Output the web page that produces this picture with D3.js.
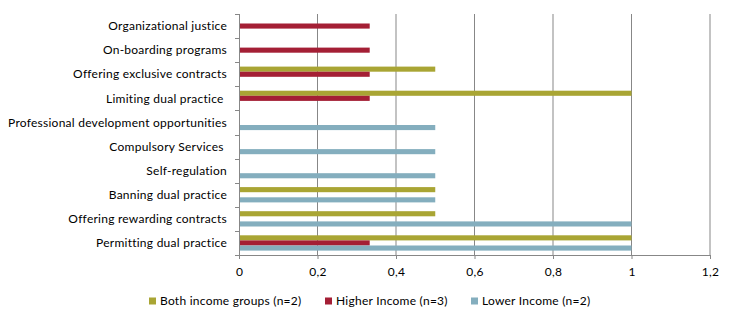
<!DOCTYPE html>
<html>
<head>
  <style type="text/css">
    body { margin: 0; background: #fff; }
    svg { font-family: Lato, 'Open Sans', sans-serif; }
    .lbl { white-space: pre; }
    text { letter-spacing: 0.25px; }
  </style>
</head>
<body>
<svg id="chart" width="733" height="321"></svg>
<script src="https://cdnjs.cloudflare.com/ajax/libs/d3/7.8.5/d3.min.js"></script>
<script type="text/javascript">

  var categories = [
    'Organizational justice',
    'On-boarding programs',
    'Offering exclusive contracts',
    'Limiting dual practice ',
    'Professional development opportunities',
    'Compulsory Services ',
    'Self-regulation',
    'Banning dual practice',
    'Offering rewarding contracts',
    'Permitting dual practice'
  ];
  var seriesNames = ['Both income groups (n=2)', 'Higher Income (n=3)', 'Lower Income (n=2)'];
  var bothVals   = [0, 0, 0.5, 1, 0, 0, 0, 0.5, 0.5, 1];
  var higherVals = [0.333, 0.333, 0.333, 0.333, 0, 0, 0, 0, 0, 0.333];
  var lowerVals  = [0, 0, 0, 0, 0.5, 0.5, 0.5, 0.5, 1, 1];
  var xTicks = [0, 0.2, 0.4, 0.6, 0.8, 1, 1.2];
  var colors = ['#a9a534', '#a41f35', '#84aebe'];

  var margin = { top: 14, left: 239, right: 23, bottom: 66 },
      width = 733, height = 321,
      svg = d3.select('#chart');

  var x = d3.scaleLinear().domain([0, 1.2]).range([margin.left, width - margin.right]);
  var y = d3.scaleBand().domain(categories).range([margin.top, height - margin.bottom]);
  var barH = 5.1;
  var sub = d3.scaleBand().domain(seriesNames)
    .range([y.bandwidth() / 2 - 1.5 * barH, y.bandwidth() / 2 + 1.5 * barH]);

  // gridlines
  svg.append('g').selectAll('line')
    .data(xTicks.slice(1))
    .join('line')
      .attr('x1', function(d) { return x(d) }).attr('x2', function(d) { return x(d) })
      .attr('y1', margin.top).attr('y2', height - margin.bottom)
      .attr('stroke', '#878787').attr('stroke-width', 1);

  // bars
  var rows = categories.map(function(c, i) {
    return { cat: c, vals: [bothVals[i], higherVals[i], lowerVals[i]] };
  });
  var g = svg.append('g').selectAll('g')
    .data(rows)
    .join('g')
      .attr('transform', function(d) { return 'translate(0,' + y(d.cat) + ')' });
  g.selectAll('rect')
    .data(function(d) { return d.vals.map(function(v, j) { return { v: v, s: seriesNames[j], j: j } }) })
    .join('rect')
      .attr('x', x(0))
      .attr('y', function(d) { return sub(d.s) })
      .attr('width', function(d) { return x(d.v) - x(0) })
      .attr('height', barH)
      .attr('fill', function(d) { return colors[d.j] });

  // x axis
  var xAxis = d3.axisBottom(x).tickValues(xTicks).tickSize(4)
    .tickFormat(function(d) { return String(d).replace('.', ',') });
  var xa = svg.append('g')
    .attr('transform', 'translate(0,' + (height - margin.bottom) + ')')
    .call(xAxis);
  xa.select('.domain').attr('stroke', '#878787').attr('d', 'M' + x(0) + ',0.5H' + x(1.2));
  xa.selectAll('.tick line').attr('stroke', '#878787');
  xa.selectAll('.tick text').attr('font-size', 12).attr('fill', '#000').attr('dy', '1.2em')
    .attr('font-family', 'Lato, sans-serif');

  // y axis
  var ya = svg.append('g').attr('transform', 'translate(' + x(0) + ',0)');
  ya.append('line').attr('x1', 0.5).attr('x2', 0.5)
    .attr('y1', margin.top).attr('y2', height - margin.bottom).attr('stroke', '#878787');
  ya.selectAll('.yt')
    .data(categories.map(function(c) { return y(c) }).concat([height - margin.bottom]))
    .join('line')
      .attr('x1', -4).attr('x2', 0)
      .attr('y1', function(d) { return Math.round(d) + 0.5 }).attr('y2', function(d) { return Math.round(d) + 0.5 })
      .attr('stroke', '#878787');
  ya.selectAll('text')
    .data(categories)
    .join('text')
      .attr('class', 'lbl')
      .attr('x', -12)
      .attr('y', function(d) { return y(d) + y.bandwidth() / 2 })
      .attr('dy', '0.35em')
      .attr('text-anchor', 'end')
      .attr('font-size', 12)
      .text(function(d) { return d });

  // legend
  var legX = [149, 325, 471];
  var leg = svg.append('g').selectAll('g')
    .data(seriesNames)
    .join('g')
      .attr('transform', function(d, i) { return 'translate(' + legX[i] + ',301)' });
  leg.append('rect').attr('x', 0).attr('y', -3.5).attr('width', 7).attr('height', 7)
    .attr('fill', function(d, i) { return colors[i] });
  leg.append('text').attr('x', 11).attr('dy', '0.35em').attr('font-size', 12)
    .text(function(d) { return d });

</script>
</body>
</html>
